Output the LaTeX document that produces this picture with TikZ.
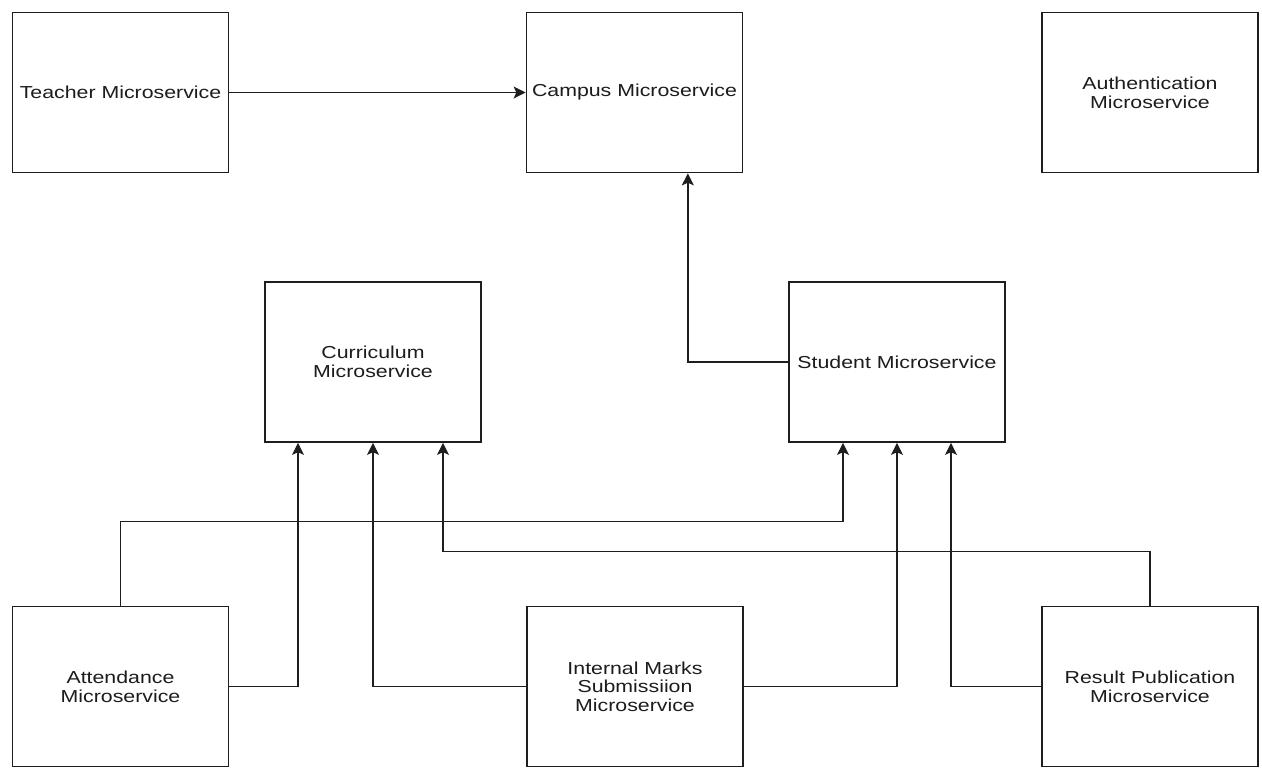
\documentclass[tikz,border=0pt]{standalone}
\usepackage{fontspec}
\usetikzlibrary{arrows.meta}
\newfontfamily\lblfont{Liberation Sans}[FakeStretch=1.23]
\definecolor{ink}{HTML}{1E1E1E}
\definecolor{txt}{HTML}{1C1C1C}
\begin{document}
\begin{tikzpicture}[x=0.75pt,y=-0.75pt,
  svc/.style={draw=ink,line width=1.3pt,fill=white,minimum width=162pt,minimum height=120pt,
    inner sep=0pt,align=center,text=txt,font=\lblfont\fontsize{13pt}{14pt}\selectfont},
  link/.style={draw=ink,line width=1.05pt,-{Stealth[length=9pt,width=9pt,inset=2pt]}}]
\useasboundingbox (0,0) rectangle (1262,769);

% services
\node[svc] (tea) at (120.5,92.5) {Teacher Microservice};
\node[svc] (cam) at (634.5,92.5) {Campus Microservice};
\node[svc] (aut) at (1150,92.5) {Authentication\\Microservice};
\node[svc] (cur) at (373,362) {Curriculum\\Microservice};
\node[svc] (stu) at (897,362) {Student Microservice};
\node[svc] (att) at (120.5,686.5) {Attendance\\Microservice};
\node[svc] (int) at (635,686.5) {Internal Marks\\Submissiion\\Microservice};
\node[svc] (res) at (1150,686.5) {Result Publication\\Microservice};

% dependencies
\draw[link] (tea.east) -- (cam.west);
\draw[link] (stu.west) -| ([xshift=40pt]cam.south);
\draw[link] (att.east) -| ([xshift=-56.25pt]cur.south);
\draw[link] (att.north) -- ++(0,-84) -| ([xshift=-40.5pt]stu.south);
\draw[link] (int.west) -| (cur.south);
\draw[link] (int.east) -| (stu.south);
\draw[link] (res.north) -- ++(0,-54) -| ([xshift=52.5pt]cur.south);
\draw[link] (res.west) -| ([xshift=40.5pt]stu.south);
\end{tikzpicture}
\end{document}
